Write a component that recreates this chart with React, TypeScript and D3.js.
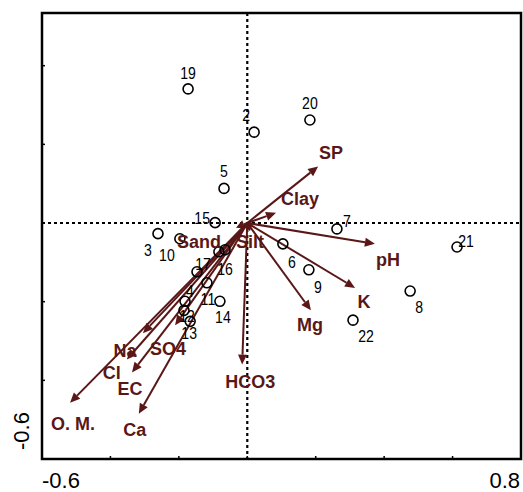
import React from "react";
import * as d3 from "d3";

// ---- data ----
const siteLabels = ["19", "2", "5", "15", "20", "7", "21", "3", "10", "16", "", "17", "11", "14", "4", "12", "13", "6", "9", "8", "22"];
const siteX = [-0.173, 0.020, -0.068, -0.094, 0.183, 0.262, 0.613, -0.261, -0.197, -0.065, -0.083, -0.147, -0.118, -0.080, -0.182, -0.185, -0.167, 0.104, 0.180, 0.476, 0.309];
const siteY = [0.341, 0.231, 0.088, 0.001, 0.262, -0.015, -0.061, -0.027, -0.040, -0.068, -0.073, -0.124, -0.152, -0.199, -0.199, -0.222, -0.250, -0.053, -0.119, -0.173, -0.247];

const varNames = ["SP", "Clay", "pH", "K", "Mg", "HCO3", "Na", "Cl", "EC", "SO4", "O. M.", "Ca", "Sand", "Silt"];
const varX = [0.207, 0.084, 0.373, 0.315, 0.186, -0.015, -0.305, -0.352, -0.337, -0.211, -0.518, -0.317, -0.033, 0.008];
const varY = [0.144, 0.026, -0.053, -0.165, -0.222, -0.360, -0.280, -0.347, -0.380, -0.260, -0.457, -0.485, -0.012, -0.020];

const xTicks = [-0.6, -0.4, -0.2, 0, 0.2, 0.4, 0.6, 0.8];
const yTicks = [-0.6, -0.4, -0.2, 0, 0.2, 0.4];
const xTickLabels = ["-0.6", "0.8"];
const yTickLabels = ["-0.6"];

// ---- layout (label offsets in px) ----
const siteLabelOffsets: [number, number][] = [
  [0, -16], [-8, -17], [0, -17], [-13, -4], [0, -17], [10, -8], [9, -6], [-10, 17], [-13, 16], [0, 19], [0, 0],
  [6, -8], [1, 16], [3, 16], [5, -10], [3, 6], [-1, 12], [9, 18], [9, 17], [9, 16], [13, 16],
];
const varLabelOffsets: [number, number][] = [
  [13, -13], [24, -14], [13, 16], [9, 14], [-1, 15], [8, 17], [-18, 18], [-15, 14], [-2, 17], [-7, 24], [3, 21], [-4, 16], [-37, 14], [0, 11],
];

const W = 523, H = 492;
const L = 42, R = 521, T = 13, B = 459;
const arrowColor = "#5a1717";

export default function App() {
  const x = d3.scaleLinear().domain([-0.6, 0.8]).range([L, R]);
  const y = d3.scaleLinear().domain([-0.6, 0.534]).range([B, T]);
  const x0 = x(0), y0 = y(0);

  const arrows = varNames.map((name, i) => {
    const tx = x(varX[i]), ty = y(varY[i]);
    const dx = tx - x0, dy = ty - y0;
    const len = Math.sqrt(dx * dx + dy * dy);
    const ux = dx / len, uy = dy / len;
    const hl = Math.min(10, len * 0.7), hw = 4.5;
    const bx = tx - ux * hl, by = ty - uy * hl;
    const pts = [
      [tx, ty],
      [bx - uy * hw, by + ux * hw],
      [bx + uy * hw, by - ux * hw],
    ].map((p) => p.join(",")).join(" ");
    return { name, tx, ty, bx, by, pts, off: varLabelOffsets[i] };
  });

  return (
    <svg width={W} height={H} style={{ position: "absolute", left: 0, top: 0, background: "#fff" }}
      fontFamily="Arial, 'Liberation Sans', sans-serif">
      {/* dotted zero lines */}
      <line x1={L} x2={R} y1={y0} y2={y0} stroke="#000" strokeWidth={2.2} strokeDasharray="3,3" />
      <line x1={x0} x2={x0} y1={T} y2={B} stroke="#000" strokeWidth={2.2} strokeDasharray="3,3" />

      {/* arrows */}
      {arrows.map((a) => (
        <g key={a.name}>
          <line x1={x0} y1={y0} x2={a.bx} y2={a.by} stroke={arrowColor} strokeWidth={2} />
          <polygon points={a.pts} fill={arrowColor} />
        </g>
      ))}

      {/* sites */}
      {siteLabels.map((s, i) => (
        <g key={"s" + i}>
          <circle cx={x(siteX[i])} cy={y(siteY[i])} r={5} fill="none" stroke="#000" strokeWidth={1.6} />
          {s && (
            <text transform={`translate(${x(siteX[i]) + siteLabelOffsets[i][0]},${y(siteY[i]) + siteLabelOffsets[i][1]}) scale(0.88,1)`}
              textAnchor="middle" dominantBaseline="central" fontSize={16} fill="#000">{s}</text>
          )}
        </g>
      ))}

      {/* variable labels */}
      {arrows.map((a) => (
        <text key={"t" + a.name} x={a.tx + a.off[0]} y={a.ty + a.off[1]} textAnchor="middle"
          dominantBaseline="central" fontSize={18} fontWeight="bold" fill={arrowColor}>{a.name}</text>
      ))}

      {/* frame */}
      <rect x={L} y={T} width={R - L} height={B - T} fill="none" stroke="#000" strokeWidth={2.5} />
      {xTicks.slice(1, -1).map((t) => (
        <line key={"xt" + t} x1={x(t)} x2={x(t)} y1={B} y2={B - 3} stroke="#000" strokeWidth={1.5} />
      ))}
      {yTicks.slice(1).map((t) => (
        <line key={"yt" + t} x1={L} x2={L + 3} y1={y(t)} y2={y(t)} stroke="#000" strokeWidth={1.5} />
      ))}

      {/* axis end labels */}
      <text x={L} y={480} dominantBaseline="central" textAnchor="start" fontSize={22} fill="#000">{xTickLabels[0]}</text>
      <text x={R - 1} y={480} dominantBaseline="central" textAnchor="end" fontSize={22} fill="#000">{xTickLabels[1]}</text>
      <text transform={`translate(21,450) rotate(-90)`} dominantBaseline="central" textAnchor="start" fontSize={22} fill="#000">{yTickLabels[0]}</text>
    </svg>
  );
}
